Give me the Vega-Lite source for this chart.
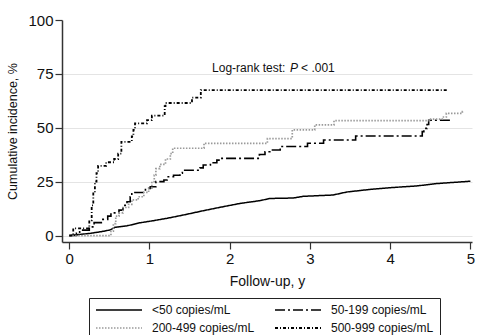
{
  "$schema": "https://vega.github.io/schema/vega-lite/v6.json",
  "width": 410,
  "height": 222,
  "autosize": {"type": "none"},
  "padding": {"left": 62, "top": 20, "right": 6, "bottom": 93},
  "background": "white",
  "config": {
    "view": {"stroke": null},
    "font": "Liberation Sans",
    "legend": {
      "orient": "none",
      "legendX": 27,
      "legendY": 278,
      "columns": 2,
      "direction": "horizontal",
      "strokeColor": "#222",
      "padding": 6,
      "symbolType": "M-1,0H8.2",
      "symbolSize": 100,
      "symbolStrokeWidth": 1.5,
      "labelFontSize": 12,
      "labelColor": "#111",
      "labelOffset": 45,
      "columnPadding": 16,
      "rowPadding": 6
    }
  },
  "datasets": {
    "curves": [
      {"g": "<50 copies/mL", "t": 0, "ci": 0},
      {"g": "<50 copies/mL", "t": 0.1, "ci": 0.4},
      {"g": "<50 copies/mL", "t": 0.26, "ci": 1},
      {"g": "<50 copies/mL", "t": 0.4, "ci": 1.8},
      {"g": "<50 copies/mL", "t": 0.51, "ci": 2.6},
      {"g": "<50 copies/mL", "t": 0.57, "ci": 3.8},
      {"g": "<50 copies/mL", "t": 0.72, "ci": 4.5},
      {"g": "<50 copies/mL", "t": 0.88, "ci": 5.9},
      {"g": "<50 copies/mL", "t": 1.05, "ci": 6.9},
      {"g": "<50 copies/mL", "t": 1.22, "ci": 8},
      {"g": "<50 copies/mL", "t": 1.42, "ci": 9.5},
      {"g": "<50 copies/mL", "t": 1.67, "ci": 11.5},
      {"g": "<50 copies/mL", "t": 1.88, "ci": 13.1},
      {"g": "<50 copies/mL", "t": 2.13, "ci": 14.9},
      {"g": "<50 copies/mL", "t": 2.38, "ci": 16.2},
      {"g": "<50 copies/mL", "t": 2.5, "ci": 17.2},
      {"g": "<50 copies/mL", "t": 2.79, "ci": 17.4},
      {"g": "<50 copies/mL", "t": 2.92, "ci": 18.2},
      {"g": "<50 copies/mL", "t": 3.29, "ci": 18.8},
      {"g": "<50 copies/mL", "t": 3.46, "ci": 20.2},
      {"g": "<50 copies/mL", "t": 3.75, "ci": 21.4},
      {"g": "<50 copies/mL", "t": 4.04, "ci": 22.3},
      {"g": "<50 copies/mL", "t": 4.33, "ci": 23},
      {"g": "<50 copies/mL", "t": 4.58, "ci": 24.1},
      {"g": "<50 copies/mL", "t": 5.0, "ci": 25.2},

      {"g": "50-199 copies/mL", "t": 0, "ci": 0},
      {"g": "50-199 copies/mL", "t": 0.09, "ci": 1},
      {"g": "50-199 copies/mL", "t": 0.13, "ci": 2.5},
      {"g": "50-199 copies/mL", "t": 0.25, "ci": 4},
      {"g": "50-199 copies/mL", "t": 0.31, "ci": 6},
      {"g": "50-199 copies/mL", "t": 0.4, "ci": 7.5},
      {"g": "50-199 copies/mL", "t": 0.48, "ci": 9},
      {"g": "50-199 copies/mL", "t": 0.52, "ci": 10.5},
      {"g": "50-199 copies/mL", "t": 0.62, "ci": 11.8},
      {"g": "50-199 copies/mL", "t": 0.67, "ci": 14},
      {"g": "50-199 copies/mL", "t": 0.72, "ci": 15.7},
      {"g": "50-199 copies/mL", "t": 0.76, "ci": 18},
      {"g": "50-199 copies/mL", "t": 0.78, "ci": 20},
      {"g": "50-199 copies/mL", "t": 0.95, "ci": 21.9},
      {"g": "50-199 copies/mL", "t": 1.01, "ci": 22.6},
      {"g": "50-199 copies/mL", "t": 1.08, "ci": 25},
      {"g": "50-199 copies/mL", "t": 1.18, "ci": 25.8},
      {"g": "50-199 copies/mL", "t": 1.22, "ci": 27.3},
      {"g": "50-199 copies/mL", "t": 1.3, "ci": 28},
      {"g": "50-199 copies/mL", "t": 1.38, "ci": 28.9},
      {"g": "50-199 copies/mL", "t": 1.41, "ci": 30.3},
      {"g": "50-199 copies/mL", "t": 1.63, "ci": 31.4},
      {"g": "50-199 copies/mL", "t": 1.67, "ci": 32.7},
      {"g": "50-199 copies/mL", "t": 1.76, "ci": 33.8},
      {"g": "50-199 copies/mL", "t": 1.84, "ci": 35},
      {"g": "50-199 copies/mL", "t": 1.88, "ci": 35.8},
      {"g": "50-199 copies/mL", "t": 2.37, "ci": 37.6},
      {"g": "50-199 copies/mL", "t": 2.44, "ci": 38.9},
      {"g": "50-199 copies/mL", "t": 2.5, "ci": 39.7},
      {"g": "50-199 copies/mL", "t": 2.63, "ci": 41.3},
      {"g": "50-199 copies/mL", "t": 2.97, "ci": 42.8},
      {"g": "50-199 copies/mL", "t": 3.17, "ci": 44.3},
      {"g": "50-199 copies/mL", "t": 3.57, "ci": 46.2},
      {"g": "50-199 copies/mL", "t": 4.4, "ci": 48.2},
      {"g": "50-199 copies/mL", "t": 4.42, "ci": 49.7},
      {"g": "50-199 copies/mL", "t": 4.46, "ci": 51.5},
      {"g": "50-199 copies/mL", "t": 4.48, "ci": 53.5},
      {"g": "50-199 copies/mL", "t": 4.75, "ci": 53.5},

      {"g": "200-499 copies/mL", "t": 0, "ci": 0},
      {"g": "200-499 copies/mL", "t": 0.52, "ci": 2},
      {"g": "200-499 copies/mL", "t": 0.55, "ci": 5.5},
      {"g": "200-499 copies/mL", "t": 0.58, "ci": 9},
      {"g": "200-499 copies/mL", "t": 0.62, "ci": 10.5},
      {"g": "200-499 copies/mL", "t": 0.67, "ci": 13},
      {"g": "200-499 copies/mL", "t": 0.74, "ci": 14.5},
      {"g": "200-499 copies/mL", "t": 0.78, "ci": 16.5},
      {"g": "200-499 copies/mL", "t": 0.86, "ci": 18},
      {"g": "200-499 copies/mL", "t": 0.93, "ci": 20},
      {"g": "200-499 copies/mL", "t": 0.99, "ci": 22},
      {"g": "200-499 copies/mL", "t": 1.03, "ci": 25},
      {"g": "200-499 copies/mL", "t": 1.06, "ci": 28},
      {"g": "200-499 copies/mL", "t": 1.08, "ci": 31},
      {"g": "200-499 copies/mL", "t": 1.13, "ci": 33},
      {"g": "200-499 copies/mL", "t": 1.2, "ci": 35.5},
      {"g": "200-499 copies/mL", "t": 1.26, "ci": 38},
      {"g": "200-499 copies/mL", "t": 1.29, "ci": 40.5},
      {"g": "200-499 copies/mL", "t": 1.68, "ci": 42.8},
      {"g": "200-499 copies/mL", "t": 2.47, "ci": 45},
      {"g": "200-499 copies/mL", "t": 2.78, "ci": 49},
      {"g": "200-499 copies/mL", "t": 3.06, "ci": 51.3},
      {"g": "200-499 copies/mL", "t": 3.3, "ci": 53.3},
      {"g": "200-499 copies/mL", "t": 4.49, "ci": 54},
      {"g": "200-499 copies/mL", "t": 4.65, "ci": 55},
      {"g": "200-499 copies/mL", "t": 4.7, "ci": 56.7},
      {"g": "200-499 copies/mL", "t": 4.9, "ci": 57.5},
      {"g": "200-499 copies/mL", "t": 4.92, "ci": 57.5},

      {"g": "500-999 copies/mL", "t": 0, "ci": 0},
      {"g": "500-999 copies/mL", "t": 0.05, "ci": 3.3},
      {"g": "500-999 copies/mL", "t": 0.25, "ci": 7},
      {"g": "500-999 copies/mL", "t": 0.28, "ci": 14},
      {"g": "500-999 copies/mL", "t": 0.3, "ci": 20},
      {"g": "500-999 copies/mL", "t": 0.32, "ci": 25},
      {"g": "500-999 copies/mL", "t": 0.34, "ci": 29},
      {"g": "500-999 copies/mL", "t": 0.36, "ci": 32.3},
      {"g": "500-999 copies/mL", "t": 0.46, "ci": 34},
      {"g": "500-999 copies/mL", "t": 0.56, "ci": 35.5},
      {"g": "500-999 copies/mL", "t": 0.61, "ci": 38},
      {"g": "500-999 copies/mL", "t": 0.65, "ci": 43.5},
      {"g": "500-999 copies/mL", "t": 0.78, "ci": 46},
      {"g": "500-999 copies/mL", "t": 0.8, "ci": 49},
      {"g": "500-999 copies/mL", "t": 0.82, "ci": 52},
      {"g": "500-999 copies/mL", "t": 0.97, "ci": 53.5},
      {"g": "500-999 copies/mL", "t": 1.03, "ci": 55.6},
      {"g": "500-999 copies/mL", "t": 1.19, "ci": 60},
      {"g": "500-999 copies/mL", "t": 1.2, "ci": 61.5},
      {"g": "500-999 copies/mL", "t": 1.53, "ci": 64},
      {"g": "500-999 copies/mL", "t": 1.64, "ci": 67.5},
      {"g": "500-999 copies/mL", "t": 4.71, "ci": 67.5}
    ]
  },
  "layer": [
    {
      "data": {"name": "curves"},
      "transform": [{"filter": "datum.g === '<50 copies/mL'"}],
      "mark": {"type": "line", "interpolate": "linear"},
      "encoding": {
        "x": {"field": "t", "type": "quantitative", "scale": {"domain": [-0.09, 5.02], "nice": false, "zero": false},
          "axis": {"values": [0, 1, 2, 3, 4, 5], "format": "d", "title": "Follow-up, y", "titleFontSize": 14, "titleFontWeight": "normal", "titleColor": "#111", "titlePadding": 8,
            "labelFontSize": 15, "labelColor": "#111", "labelPadding": 2, "tickSize": 7, "tickColor": "#333", "tickWidth": 1.2, "domainColor": "#333", "domainWidth": 1.5, "grid": false}},
        "y": {"field": "ci", "type": "quantitative", "scale": {"domain": [-3, 100], "nice": false, "zero": false},
          "axis": {"values": [0, 25, 50, 75, 100], "format": "d", "title": "Cumulative incidence, %", "titleFontSize": 12.5, "titleFontWeight": "normal", "titleColor": "#111", "titlePadding": 8,
            "labelFontSize": 15, "labelColor": "#111", "labelPadding": 2, "tickSize": 7, "tickColor": "#333", "tickWidth": 1.2, "domainColor": "#333", "domainWidth": 1.5,
            "grid": true, "gridColor": "#e4e4e4", "gridWidth": 1, "gridOpacity": {"condition": {"test": "datum.value == 100", "value": 0}, "value": 1}}},
        "color": {"field": "g", "type": "nominal", "scale": {"domain": ["<50 copies/mL", "50-199 copies/mL", "200-499 copies/mL", "500-999 copies/mL"], "range": ["#000000", "#000000", "#9a9a9a", "#000000"]}, "legend": {"title": null}},
        "strokeDash": {"field": "g", "type": "nominal", "scale": {"domain": ["<50 copies/mL", "50-199 copies/mL", "200-499 copies/mL", "500-999 copies/mL"], "range": [[1, 0], [10, 3, 2, 3], [1.5, 1.5], [3, 2, 1, 2]]}, "legend": {"title": null}},
        "strokeWidth": {"field": "g", "type": "ordinal", "scale": {"domain": ["<50 copies/mL", "50-199 copies/mL", "200-499 copies/mL", "500-999 copies/mL"], "range": [1.5, 1.8, 1.1, 1.6]}, "legend": null}
      }
    },
    {
      "data": {"name": "curves"},
      "transform": [{"filter": "datum.g !== '<50 copies/mL'"}],
      "mark": {"type": "line", "interpolate": "step-after"},
      "encoding": {
        "x": {"field": "t", "type": "quantitative"},
        "y": {"field": "ci", "type": "quantitative"},
        "color": {"field": "g", "type": "nominal", "legend": {"title": null}},
        "strokeDash": {"field": "g", "type": "nominal", "legend": {"title": null}},
        "strokeWidth": {"field": "g", "type": "ordinal", "legend": null}
      }
    },
    {
      "data": {"values": [{"label": "Log-rank test:"}]},
      "mark": {"type": "text", "align": "left", "baseline": "middle", "fontSize": 12, "color": "#111"},
      "encoding": {"x": {"datum": 1.78}, "y": {"datum": 77.6}, "text": {"field": "label"}}
    },
    {
      "data": {"values": [{"label": "P"}]},
      "mark": {"type": "text", "align": "left", "baseline": "middle", "fontSize": 12, "fontStyle": "italic", "color": "#111", "dx": 78},
      "encoding": {"x": {"datum": 1.78}, "y": {"datum": 77.6}, "text": {"field": "label"}}
    },
    {
      "data": {"values": [{"label": "< .001"}]},
      "mark": {"type": "text", "align": "left", "baseline": "middle", "fontSize": 12, "color": "#111", "dx": 89},
      "encoding": {"x": {"datum": 1.78}, "y": {"datum": 77.6}, "text": {"field": "label"}}
    }
  ]
}
